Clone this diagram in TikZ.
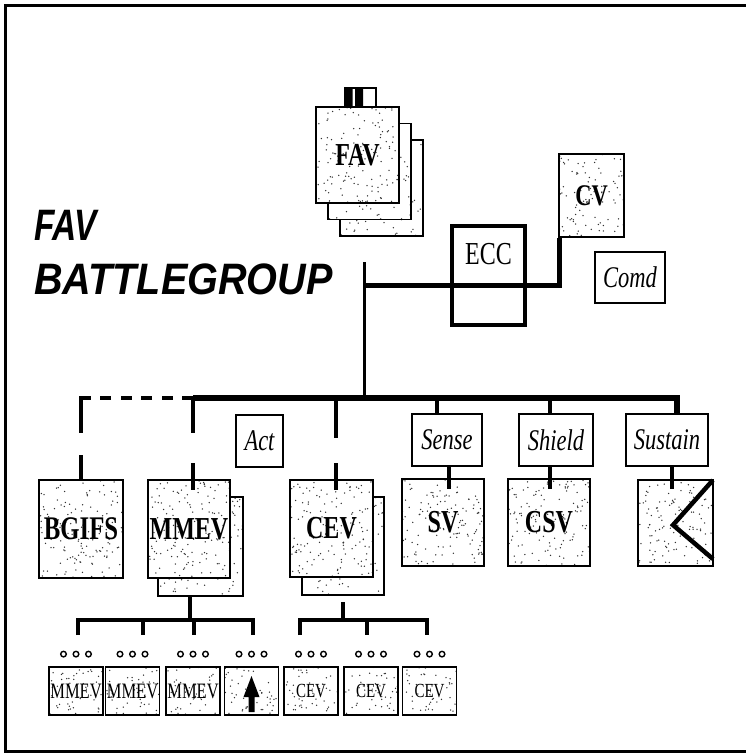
\documentclass[tikz,border=0pt]{standalone}
\usepackage{fontspec}
\setmainfont{Liberation Serif}
\newfontfamily\titlefont{Liberation Sans}
\usepackage{graphicx}
\usetikzlibrary{calc}
\newcommand{\nar}[1]{\scalebox{0.75}[1]{#1}}
\newcommand{\fsz}[1]{\fontsize{#1}{#1}\selectfont}
\tikzset{
  bx/.style 2 args={draw, line width=1.8pt, fill=white, inner sep=0pt,
    minimum width=#1, minimum height=#2},
  lbl/.style 2 args={draw, line width=1.6pt, fill=white, inner sep=0pt,
    minimum width=#1, minimum height=#2, font=\fsz{30}\itshape},
  stip/.style={path picture={
    \coordinate (sw) at (path picture bounding box.south west);
    \coordinate (ne) at (path picture bounding box.north east);
    \foreach \i in {1,...,#1}{
      \pgfmathsetmacro\u{rnd}\pgfmathsetmacro\v{rnd}
      \coordinate (px) at ($(sw)!\u!(sw -| ne)$);
      \coordinate (py) at ($(sw)!\v!(sw |- ne)$);
      \fill[black!80] (px |- py) circle (0.75);
    }}},
  bus/.style={line width=5.5pt},
  stub/.style={line width=4.2pt},
  sub/.style={line width=4.5pt},
  ring/.style={line width=1.4pt},
}
\begin{document}
\begin{tikzpicture}[x=1pt,y=-1pt]
\pgfmathsetseed{11}
\useasboundingbox (0,0) rectangle (745,755);
% frame
\draw[line width=3pt] (746,5.5) -- (5,5.5) -- (5,751) -- (746,751);

% FAV stack
\node[bx={83}{96},stip=90] (fav3) at (381.5,188) {};
\node[bx={83}{96},stip=90] (fav2) at (369.5,171.5) {};
\node[draw, line width=1.5pt, fill=white, inner sep=0pt, minimum width=31, minimum height=19] (tab) at (360.5,97.5) {};
\fill (345,89) rectangle (352.5,107) (355,89) rectangle (363,107);
\node[bx={83}{96},stip=130] (fav) at (357.5,155) {\nar{\fsz{32}\bfseries FAV}};

% title
\node[anchor=base west, inner sep=0pt] (t1) at (34,240)
  {\titlefont\bfseries\itshape\fsz{44}\scalebox{0.76}[1]{FAV}};
\node[anchor=base west, inner sep=0pt] (t2) at (34,294)
  {\titlefont\bfseries\itshape\fsz{44}\scalebox{0.9}[1]{BATTLEGROUP}};

% command group
\node[bx={65}{83},stip=90] (cv) at (591.5,195.5) {\nar{\fsz{30}\bfseries CV}};
\node[lbl={70}{51}] (comd) at (630,277.5) {\nar{Comd}};
\node[draw, line width=4pt, inner sep=0pt, minimum width=73, minimum height=99] (ecc) at (488.5,275.5) {};
\node[inner sep=0pt] (ecct) at (488.5,254) {\nar{\fsz{32}ECC}};
\coordinate (hub) at (364,285);
\coordinate (top) at (364,262);
\coordinate (bushub) at (364,398);
\draw[line width=3pt] (top) -- (bushub);
\draw[line width=5pt] (hub) -| ($(cv.south west)+(1,0)$);

% label boxes
\node[lbl={47}{52}] (act) at (259.5,441) {\nar{Act}};
\node[lbl={70}{52}] (sense) at (447,440) {\nar{Sense}};
\node[lbl={74}{52}] (shield) at (556,440) {\nar{Shield}};
\node[lbl={82}{52}] (sustain) at (667,440) {\nar{Sustain}};

% vehicles
\node[bx={84}{98},stip=140] (bgifs) at (81,529) {\nar{\fsz{33}\bfseries BGIFS}};
\node[bx={85}{99},stip=100] (mmev2) at (200.5,546.5) {};
\node[bx={82}{98},stip=140] (mmev) at (189,529) {\nar{\fsz{32}\bfseries MMEV}};
\node[bx={82}{98},stip=100] (cev2) at (343,546) {};
\node[bx={83}{97},stip=140] (cev) at (331.5,528.5) {\nar{\fsz{32}\bfseries CEV}};
\node[bx={82}{87},stip=130] (sv) at (443,522.5) {\nar{\fsz{32}\bfseries SV}};
\node[bx={82}{87},stip=130] (csv) at (549,522.5) {\nar{\fsz{32}\bfseries CSV}};
\node[bx={75}{86},stip=120] (susv) at (675.5,523) {};
\draw[line width=4.5pt] ($(susv.north east)+(-1,1)$) -- (673,525) -- (713,559);

% main bus
\draw[bus] (193,398) -| (677,414);
\draw[line width=4.2pt, dash pattern=on 11pt off 9.5pt] (193,398) -- (81,398);
\draw[stub] (81,396) -- (81,433);
\draw[stub] (81,455) -- (bgifs.north -| 81,0);
\draw[stub] (193,398) -- (193,433);
\draw[stub] (193,463) -- (193,490);
\draw[stub] (336,398) -- (336,438);
\draw[stub] (336,463) -- (336,490);
\draw[stub] (437,398) -- (sense.north -| 437,0);
\draw[stub] (sense.south -| 449,0) -- (449,489);
\draw[stub] (550,398) -- (shield.north -| 550,0);
\draw[stub] (shield.south -| 550,0) -- (550,489);
\draw[stub] (sustain.south -| 672,0) -- (672,489);

% sub units
\foreach \n/\c/\t/\f in {s1/76/MMEV/22, s2/132.5/MMEV/22, s3/193/MMEV/22, s4/251.5//22,
                          s5/311/CEV/20, s6/371/CEV/20, s7/429.5/CEV/20}{
  \node[bx={54}{48},stip=45] (\n) at (\c,691) {\nar{\fsz{\f}\t}};
  \foreach \d in {-12.5,0,12.5}
    \draw[ring] ($(\n.north)+(\d,-12)$) circle (2.8);
}
\fill (s4.center) ++(0,-15) -- ++(8,21) -- ++(-5,0) -- ++(0,15) -- ++(-6,0) -- ++(0,-15) -- ++(-5,0) -- cycle;

% sub buses
\draw[stub] (mmev2.south -| 190,0) -- (190,620);
\draw[sub] (78,635) -- (78,620) -- (253,620) -- (253,635);
\draw[sub] (143,620) -- (143,635);
\draw[sub] (194,620) -- (194,635);
\draw[stub] (343,602) -- (343,620);
\draw[sub] (300,635) -- (300,620) -- (427,620) -- (427,635);
\draw[sub] (367,620) -- (367,635);
\end{tikzpicture}
\end{document}
